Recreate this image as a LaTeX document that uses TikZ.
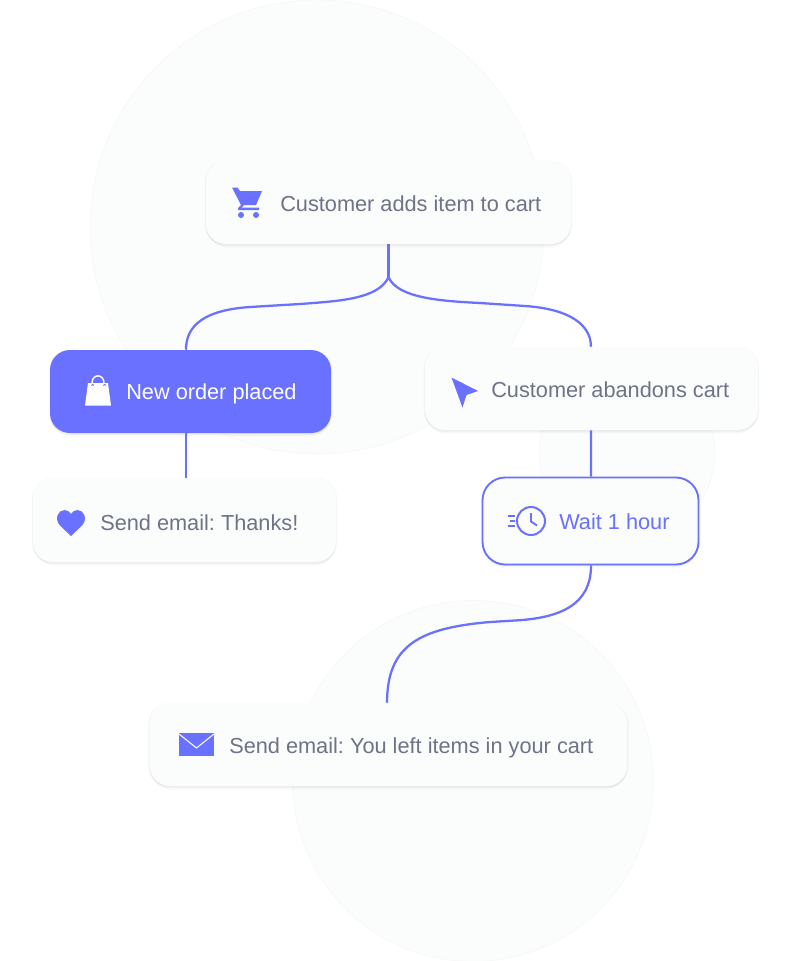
\documentclass[tikz,border=0pt]{standalone}
\usepackage{fontspec}
\setmainfont{Liberation Sans}
\usetikzlibrary{shadows, positioning, calc}
\frenchspacing

\definecolor{flowpurple}{HTML}{6A70FF}
\definecolor{flowgray}{HTML}{6E7387}
\definecolor{flowpale}{HTML}{FBFCFC}

\tikzset{
softshadow/.style={
  general shadow={shadow yshift=-3pt, shadow scale=0.995, fill=black, opacity=0.012},
  general shadow={shadow yshift=-2.2pt, shadow scale=1.0, fill=black, opacity=0.016},
  general shadow={shadow yshift=-1.5pt, shadow scale=1.0, fill=black, opacity=0.02},
  general shadow={shadow yshift=-0.8pt, shadow scale=1.005, fill=black, opacity=0.02},
  general shadow={shadow yshift=-0.2pt, shadow scale=1.008, fill=black, opacity=0.02}},
flowbox/.style={rectangle, rounded corners=15pt, fill=flowpale, softshadow, inner sep=0pt},
activebox/.style={flowbox, fill=flowpurple},
waitbox/.style={flowbox, rounded corners=17pt, draw=flowpurple, line width=1.4pt},
flowtext/.style={anchor=base west, inner sep=0pt, text=flowgray, font=\fontsize{16.3}{19}\selectfont},
link/.style={draw=flowpurple, line width=1.7pt},
blob/.style={fill=flowpale, draw=black!3, line width=0.5pt},
pics/cartglyph/.style={code={
  \fill[flowpurple] (-15,-15.5) -- (-9.5,-15.5) -- (-7,-12) -- (15,-12) -- (9,2) -- (-6,2) -- cycle;
  \fill[flowpurple] (-6,2) -- (-3,2) -- (-5.5,4.5) -- (12,4.5) -- (12,7) -- (-9,7) -- (-9,5) -- cycle;
  \fill[flowpurple] (-6,12) circle (3) (9,12) circle (3);}},
pics/bagglyph/.style={code={
  \fill[white] (-10,-8) -- (10,-8) -- (13,14.5) -- (-13,14.5) -- cycle;
  \draw[white, line width=1.1pt] (-6,-8) .. controls (-6,-17.5) and (6,-17.5) .. (6,-8);
  \draw[flowpurple, line width=0.6pt] (-6.5,-5.5) arc (180:360:1.2) (5.5,-5.5) arc (180:360:1.2);}},
pics/heartglyph/.style={code={
  \fill[flowpurple] (0,13) -- (-11,2.5) .. controls (-17,-4) and (-13,-13) .. (-6.5,-13)
    .. controls (-3.5,-13) and (-1,-11) .. (0,-9) .. controls (1,-11) and (3.5,-13) .. (6.5,-13)
    .. controls (13,-13) and (17,-4) .. (11,2.5) -- cycle;}},
pics/arrowglyph/.style={code={
  \fill[flowpurple] (-13.5,-14.5) -- (13,-1) -- (1.5,3) -- (-2.5,15.5) -- cycle;}},
pics/clockglyph/.style={code={
  \draw[flowpurple, line width=1.5pt] (0,0) circle (14);
  \draw[flowpurple, line width=1.4pt] (0,-8) -- (0,0.5) -- (6,4.5);
  \draw[flowpurple, line width=1.1pt] (-23.5,-5) -- (-16,-5) (-21.5,0) -- (-16,0) (-23.5,5) -- (-16,5);}},
pics/mailglyph/.style={code={
  \fill[flowpurple] (-17.5,-11.5) rectangle (17.5,11.5);
  \draw[white, line width=0.8pt] (-17.5,-10.5) -- (0,3.5) -- (17.5,-10.5);}},
}

\begin{document}
\begin{tikzpicture}[x=0.75pt, y=-0.75pt]
\useasboundingbox (0,0) rectangle (800,961);

% Background circles
\path[blob] (317,227) circle (227);
\path[blob] (627,453) circle (88);
\path[blob] (473,781) circle (180.5);

% Steps
\node[flowbox, minimum width=273.75pt, minimum height=62.25pt] (cart) at (388.5,202.5) {};
\node[activebox, minimum width=210.75pt, minimum height=62.25pt] (order) at (190.5,391.5) {};
\node[flowbox, minimum width=249.75pt, minimum height=62.25pt] (abandon) at (591.5,388.5) {};
\node[flowbox, minimum width=227.25pt, minimum height=63pt] (thanks) at (184.5,520) {};
\node[waitbox, minimum width=162pt, minimum height=65.25pt] (wait) at (590.5,521) {};
\node[flowbox, minimum width=357.75pt, minimum height=62.25pt] (reminder) at (388.5,744.5) {};

% Connectors
\coordinate (fork) at ($(cart.south)+(0,33)$);
\draw[link] (cart.south) -- (fork);
\draw[link] (fork) .. controls (378,299) and (340,301) .. (300,304) -- (250,307)
  .. controls (205,310) and (186,325) .. ([xshift=-3.4pt]order.north);
\draw[link] (fork) .. controls (398,298) and (440,301) .. (480,303) -- (525,306)
  .. controls (570,309) and (591,325) .. ([xshift=-0.4pt]abandon.north);
\draw[link] ([xshift=-3.4pt]order.south) -- ([xshift=1.1pt]thanks.north);
\draw[link] ([xshift=-0.4pt]abandon.south) -- ([xshift=0.4pt]wait.north);
\draw[link] ([xshift=0.4pt]wait.south) .. controls (591,605) and (560,618) .. (515,620.5) -- (490,622)
  .. controls (420,628) and (387,645) .. ([xshift=-1.1pt]reminder.north);

% Icons
\pic at (247,203) {cartglyph};
\pic at (98,391) {bagglyph};
\pic at (71,523) {heartglyph};
\pic at (465,392) {arrowglyph};
\pic at (531,521) {clockglyph};
\pic at (196.5,744.5) {mailglyph};

% Labels
\node[flowtext] (carttext) at (280,211) {Customer adds item to cart};
\node[flowtext, text=white] (ordertext) at (126,399) {New order placed};
\node[flowtext] (abandontext) at (491,397) {Customer abandons cart};
\node[flowtext] (thankstext) at (100,530) {Send email: Thanks!};
\node[flowtext, text=flowpurple] (waittext) at (559,529) {Wait 1 hour};
\node[flowtext] (remindertext) at (229,753) {Send email: You left items in your cart};
\end{tikzpicture}
\end{document}
